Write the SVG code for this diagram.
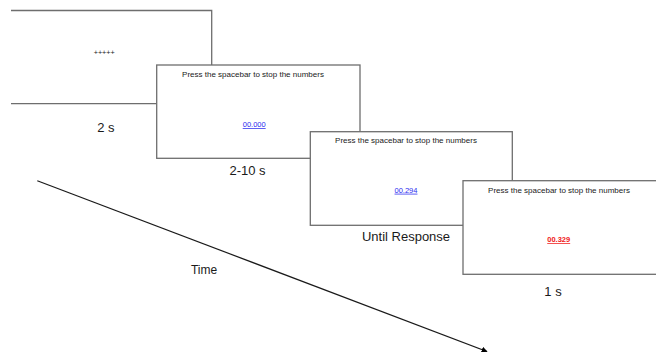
<svg xmlns="http://www.w3.org/2000/svg" width="656" height="352" viewBox="0 0 656 352">
<defs>
<style>
.box{fill:#fff;stroke:#6e6e6e;stroke-width:1.3}
.t{font-family:"Liberation Sans",Arial,sans-serif;fill:#1a1a1a}
.small{font-size:8px;text-anchor:middle}
.num{font-size:7.5px;text-anchor:middle;text-decoration:underline}
.lbl{font-size:13px;text-anchor:middle}
</style>
<marker id="ah" viewBox="0 0 10 10" refX="9" refY="5" markerWidth="5" markerHeight="5" orient="auto" markerUnits="strokeWidth">
<path d="M0,0 L10,5 L0,10 z" fill="#000"/>
</marker>
</defs>
<g id="connectors">
<line x1="37.3" y1="180.7" x2="487" y2="351.5" stroke="#1a1a1a" stroke-width="1.2" marker-end="url(#ah)"/>
</g>
<g id="screen1">
<path class="box" d="M11,10.5 H211.7 V103.7 H11"/>
<text class="t" x="104.2" y="54.5" style="font-size:7.2px;text-anchor:middle">+++++</text>
</g>
<g id="label1"><text class="t lbl" x="105.8" y="131.7">2 s</text></g>
<g id="screen2">
<rect class="box" x="156.7" y="65" width="203.3" height="93.3"/>
<text class="t small" x="253" y="77">Press the spacebar to stop the numbers</text>
<text class="t num" x="254.2" y="127" style="fill:#2a2af0">00.000</text>
</g>
<g id="label2"><text class="t lbl" x="247.5" y="175">2-10 s</text></g>
<g id="screen3">
<rect class="box" x="310.3" y="131.7" width="202" height="93.6"/>
<text class="t small" x="406" y="142.7">Press the spacebar to stop the numbers</text>
<text class="t num" x="406" y="192.7" style="fill:#2a2af0">00.294</text>
</g>
<g id="label3"><text class="t lbl" x="406" y="240.7">Until Response</text></g>
<g id="screen4">
<rect class="box" x="463" y="180.7" width="202" height="93.6"/>
<text class="t small" x="559" y="192.5">Press the spacebar to stop the numbers</text>
<text class="t num" x="558.7" y="242" style="fill:#f01818;font-weight:bold">00.329</text>
</g>
<g id="label4"><text class="t lbl" x="553" y="296">1 s</text></g>
<g id="time"><text class="t" x="204" y="274" style="font-size:12px;text-anchor:middle">Time</text></g>
</svg>
